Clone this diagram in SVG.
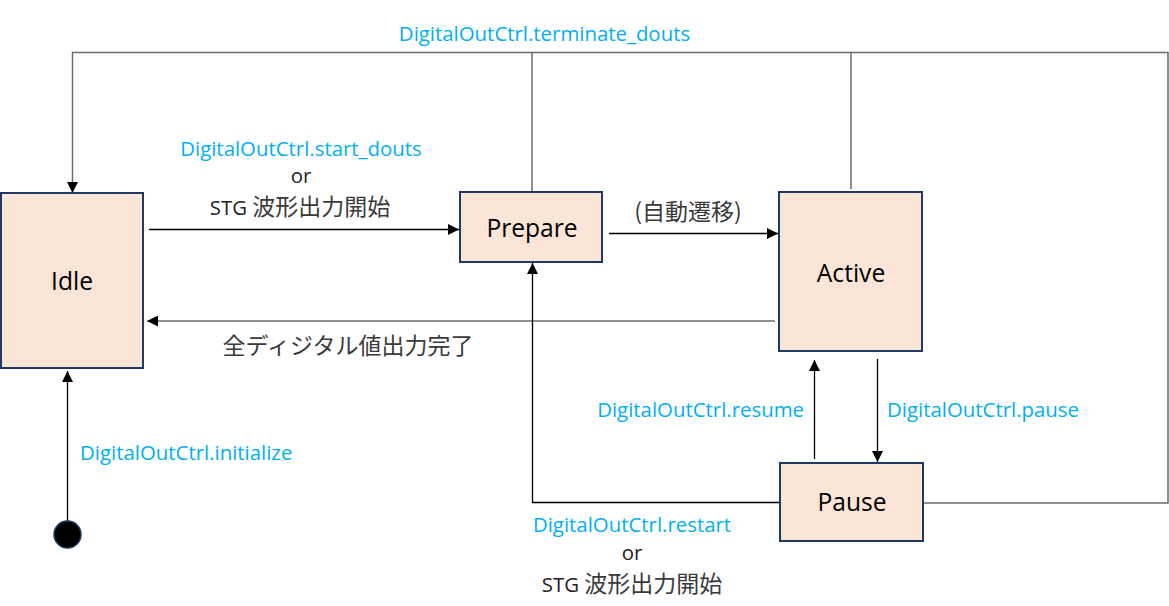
<svg xmlns="http://www.w3.org/2000/svg" width="1169" height="606" viewBox="0 0 1169 606">
<defs>
<style>
.node{fill:#FBE5D6;stroke:#1F3864;stroke-width:2}
.nl{font-family:"Open Sans","Noto Sans",sans-serif;font-size:24.6px;fill:#000;text-anchor:middle}
.ln{fill:none;stroke:#000;stroke-width:1.3}
.lg{fill:none;stroke:#6b6b6b;stroke-width:1.5}
.ev{font-family:"Open Sans","Noto Sans",sans-serif;font-size:20.4px;fill:#00B0F0}
.tx{font-family:"Open Sans","Noto Sans","Noto Sans CJK JP",sans-serif;font-size:20.4px;fill:#222}
.jp{font-family:"Noto Sans CJK JP",sans-serif;font-size:23px;fill:#3a3a3a}
.mid{text-anchor:middle}
</style>
<marker id="ah" viewBox="0 0 10 10" refX="10" refY="5" markerWidth="11" markerHeight="11" markerUnits="userSpaceOnUse" orient="auto">
<path d="M0,0 L10,5 L0,10 z" fill="#000"/>
</marker>
</defs>
<rect width="1169" height="606" fill="#fff"/>
<g id="connectors">
<path class="lg" d="M923,503 H1168 V52.5 H72.5 V193" marker-end="url(#ah)"/>
<path class="lg" d="M532,191 V52.5"/>
<path class="lg" d="M851,189 V52.5"/>
<path class="ln" d="M149,229.5 H459" marker-end="url(#ah)"/>
<path class="ln" d="M609,233.5 H778" marker-end="url(#ah)"/>
<path class="lg" d="M775,321 H147" marker-end="url(#ah)"/>
<path class="ln" d="M877.5,359 V462" marker-end="url(#ah)"/>
<path class="ln" d="M814.5,459 V360" marker-end="url(#ah)"/>
<path class="ln" d="M779,502.5 H532.5 V263" marker-end="url(#ah)"/>
<path class="ln" d="M67.5,521 V371" marker-end="url(#ah)"/>
<text class="ev mid" x="544.5" y="41">DigitalOutCtrl.terminate_douts</text>
<text class="ev mid" x="301" y="156">DigitalOutCtrl.start_douts</text>
<text class="tx mid" x="301" y="183">or</text>
<text class="tx mid" x="300" y="215">STG <tspan class="jp">波形出力開始</tspan></text>
<text class="jp mid" x="688" y="220">(自動遷移)</text>
<text class="jp mid" x="348" y="354">全ディジタル値出力完了</text>
<text class="ev" x="80" y="460">DigitalOutCtrl.initialize</text>
<text class="ev" x="804" y="417" text-anchor="end">DigitalOutCtrl.resume</text>
<text class="ev" x="887" y="417">DigitalOutCtrl.pause</text>
<text class="ev mid" x="632" y="532">DigitalOutCtrl.restart</text>
<text class="tx mid" x="632" y="560">or</text>
<text class="tx mid" x="632" y="592">STG <tspan class="jp">波形出力開始</tspan></text>
</g>
<g id="idle">
<rect class="node" x="1" y="193" width="142" height="175"/>
<text class="nl" x="72" y="290">Idle</text>
</g>
<g id="prepare">
<rect class="node" x="460" y="192" width="142" height="70"/>
<text class="nl" x="532" y="237">Prepare</text>
</g>
<g id="active">
<rect class="node" x="779" y="192" width="143" height="159"/>
<text class="nl" x="851" y="282">Active</text>
</g>
<g id="pause">
<rect class="node" x="780" y="463" width="143" height="78"/>
<text class="nl" x="852" y="511">Pause</text>
</g>
<g id="initial">
<circle cx="67.5" cy="534.5" r="13.5" fill="#000" stroke="#1F3864" stroke-width="1.5"/>
</g>
</svg>
